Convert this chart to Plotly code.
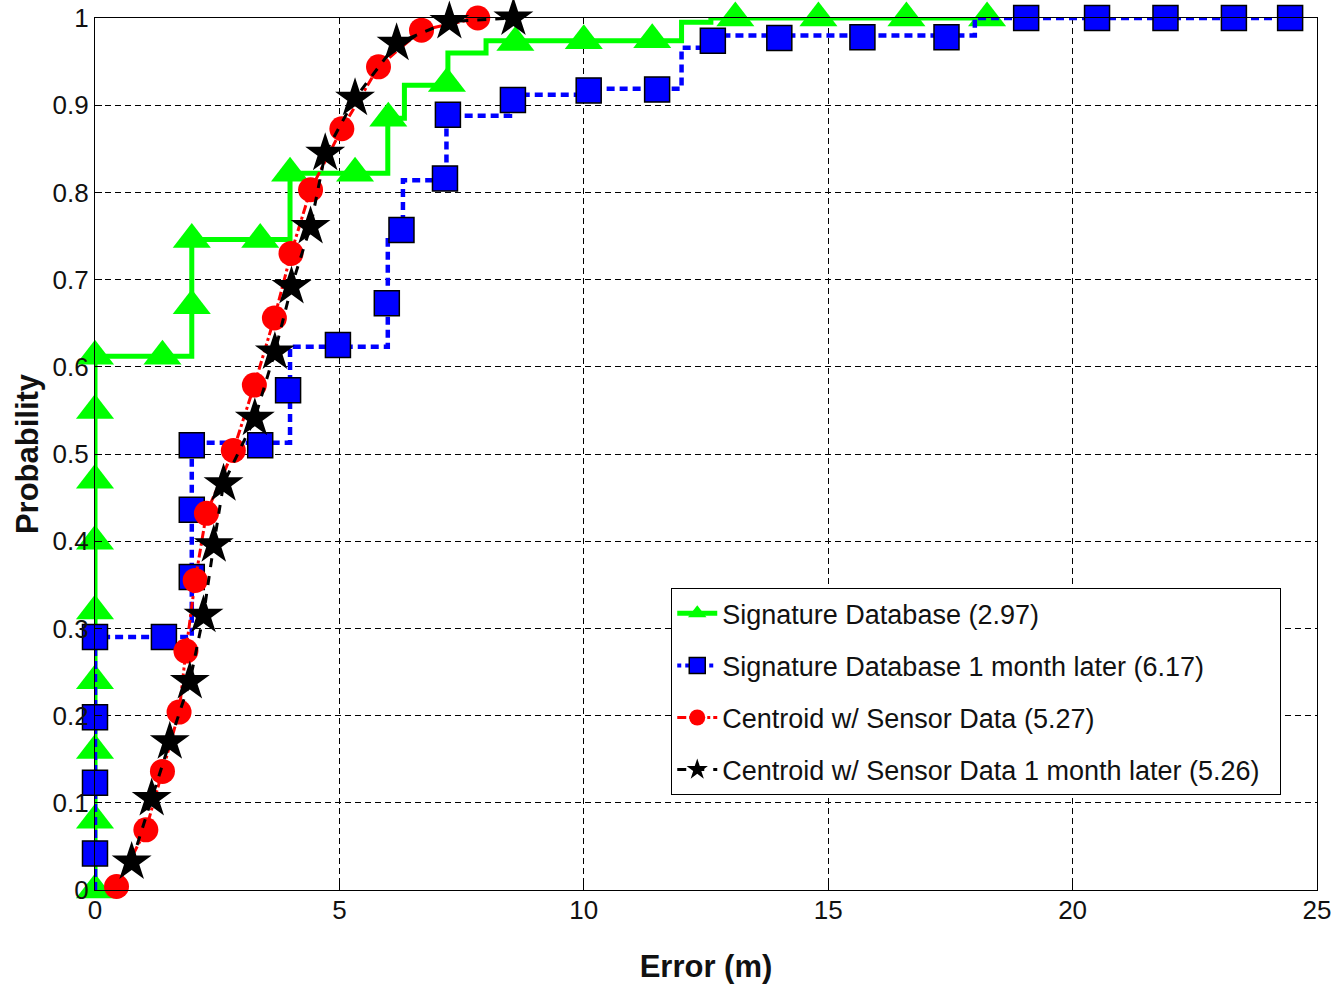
import plotly.graph_objects as go

# ---------------- data ----------------
series_names = [
    "Signature Database (2.97)",
    "Signature Database 1 month later (6.17)",
    "Centroid w/ Sensor Data (5.27)",
    "Centroid w/ Sensor Data 1 month later (5.26)",
]

# Signature Database: stair line vertices and marker positions
sig_step_x = [0, 0, 1.98, 3.99, 5.99, 6.33, 7.22, 8.0, 12.0, 12.6, 18.25]
sig_step_y = [0, 0.612, 0.746, 0.822, 0.885, 0.923, 0.96, 0.974, 0.995, 1.0, 1.0]
sig_mark_x = [0, 0, 0, 0, 0, 0, 0, 0, 0, 1.38, 1.98, 1.98, 3.38, 3.99, 5.32,
              6.0, 7.2, 8.6, 10.0, 11.4, 13.1, 14.8, 16.6, 18.25]
sig_mark_y = [0.0, 0.08, 0.16, 0.24, 0.32, 0.40, 0.47, 0.55, 0.612, 0.612, 0.67,
              0.746, 0.746, 0.822, 0.822, 0.885, 0.925, 0.972, 0.974, 0.975,
              1.0, 1.0, 1.0, 1.0]

# Signature Database 1 month later
sig1m_step_x = [0, 0, 1.98, 3.99, 5.99, 6.3, 7.19, 8.49, 10.05, 12.0, 12.45, 18.0, 24.45]
sig1m_step_y = [0, 0.29, 0.513, 0.623, 0.745, 0.814, 0.888, 0.912, 0.919, 0.966, 0.98, 1.0, 1.0]
sig1m_mark_x = [0, 0, 0, 0, 1.41, 1.98, 1.98, 1.98, 3.38, 3.95, 4.97, 5.97, 6.27,
                7.16, 7.22, 8.55, 10.1, 11.5, 12.64, 14.0, 15.7, 17.42, 19.05,
                20.5, 21.9, 23.3, 24.45]
sig1m_mark_y = [0.042, 0.123, 0.198, 0.29, 0.29, 0.359, 0.436, 0.51, 0.51, 0.573,
                0.625, 0.673, 0.757, 0.816, 0.889, 0.906, 0.917, 0.918, 0.974,
                0.977, 0.978, 0.978, 1.0, 1.0, 1.0, 1.0, 1.0]

# Centroid w/ Sensor Data
cen_x = [0.44, 1.04, 1.38, 1.72, 1.86, 2.05, 2.28, 2.83, 3.26, 3.67, 4.01, 4.41,
         5.05, 5.80, 6.68, 7.83]
cen_y = [0.004, 0.069, 0.136, 0.204, 0.274, 0.355, 0.432, 0.504, 0.579, 0.656,
         0.730, 0.803, 0.873, 0.944, 0.986, 1.0]

# Centroid w/ Sensor Data 1 month later
cen1m_x = [0.75, 1.16, 1.53, 1.94, 2.22, 2.43, 2.63, 3.27, 3.68, 4.02, 4.41, 4.71,
           5.32, 6.17, 7.25, 8.56]
cen1m_y = [0.032, 0.105, 0.170, 0.239, 0.315, 0.396, 0.466, 0.541, 0.617, 0.692,
           0.761, 0.845, 0.908, 0.971, 0.996, 1.0]

x_ticks = [0, 5, 10, 15, 20, 25]
y_ticks = [0, 0.1, 0.2, 0.3, 0.4, 0.5, 0.6, 0.7, 0.8, 0.9, 1.0]
y_tick_text = ["0", "0.1", "0.2", "0.3", "0.4", "0.5", "0.6", "0.7", "0.8", "0.9", "1"]

# ---------------- figure ----------------
FONT = "Liberation Sans, Arial, Helvetica, sans-serif"
GREEN = "#00ff00"
BLUE = "#0000ff"
RED = "#ff0000"
BLACK = "#000000"
TXT = "#111111"

fig = go.Figure()

# Signature Database
fig.add_trace(go.Scatter(x=sig_step_x, y=sig_step_y, mode="lines", line_shape="hv",
                         line=dict(color=GREEN, width=5), showlegend=False,
                         hoverinfo="skip", cliponaxis=False))
fig.add_trace(go.Scatter(x=sig_mark_x, y=sig_mark_y, mode="markers",
                         marker=dict(symbol="triangle-up", size=33, color=GREEN,
                                     line=dict(width=0)),
                         showlegend=False, cliponaxis=False))

# Signature Database 1 month later
fig.add_trace(go.Scatter(x=sig1m_step_x, y=sig1m_step_y, mode="lines", line_shape="hv",
                         line=dict(color=BLUE, width=4.5, dash="8px,5px"), showlegend=False,
                         hoverinfo="skip", cliponaxis=False))
fig.add_trace(go.Scatter(x=sig1m_mark_x, y=sig1m_mark_y, mode="markers",
                         marker=dict(symbol="square", size=25, color=BLUE,
                                     line=dict(width=1.5, color=BLACK)),
                         showlegend=False, cliponaxis=False))

# Centroid w/ Sensor Data
fig.add_trace(go.Scatter(x=cen_x, y=cen_y, mode="lines+markers",
                         line=dict(color=RED, width=3, dash="dashdot"),
                         marker=dict(symbol="circle", size=25, color=RED,
                                     line=dict(width=0)),
                         showlegend=False, cliponaxis=False))

# Centroid w/ Sensor Data 1 month later
fig.add_trace(go.Scatter(x=cen1m_x, y=cen1m_y, mode="lines+markers",
                         line=dict(color=BLACK, width=3, dash="dash"),
                         marker=dict(symbol="star", size=30, color=BLACK,
                                     line=dict(width=0)),
                         showlegend=False, cliponaxis=False))

# legend entries (line + marker samples)
legend_styles = [
    dict(line=dict(color=GREEN, width=5), marker=dict(symbol="triangle-up", size=16, color=GREEN)),
    dict(line=dict(color=BLUE, width=4, dash="dot"),
         marker=dict(symbol="square", size=16, color=BLUE, line=dict(width=1.5, color=BLACK))),
    dict(line=dict(color=RED, width=3, dash="dashdot"), marker=dict(symbol="circle", size=16, color=RED)),
    dict(line=dict(color=BLACK, width=3, dash="dash"), marker=dict(symbol="star", size=16, color=BLACK)),
]
for i, (name, st) in enumerate(zip(series_names, legend_styles)):
    fig.add_trace(go.Scatter(x=[None], y=[None], mode="lines+markers",
                             name=name + "\u00a0\u00a0",
                             legendgroup=f"g{i}", **st))

fig.update_layout(
    width=1332, height=984,
    paper_bgcolor="white", plot_bgcolor="white",
    margin=dict(l=95, r=15, t=18, b=94, autoexpand=False),
    font=dict(family=FONT, size=27, color="black"),
    showlegend=True,
    legend=dict(
        x=0.4714, y=0.3463, xanchor="left", yanchor="top",
        bgcolor="white", bordercolor="black", borderwidth=1.2,
        font=dict(family=FONT, size=27, color=TXT),
        tracegroupgap=14, traceorder="grouped",
        itemwidth=40,
    ),
)

fig.update_xaxes(
    range=[0, 25], tickvals=x_ticks, ticktext=[str(v) for v in x_ticks],
    showgrid=True, gridcolor="black", gridwidth=1, griddash="6px,4px",
    zeroline=False, showline=True, linecolor="black", linewidth=1.2, mirror=True,
    ticks="inside", ticklen=7, tickcolor="black", automargin=False,
    ticklabelstandoff=-3, ticklabeloverflow="allow",
    tickfont=dict(family=FONT, size=26, color=TXT),
    title=dict(text="<b>Error (m)</b>", font=dict(family=FONT, size=31, color=TXT),
               standoff=32),
)
fig.update_yaxes(
    range=[0, 1], tickvals=y_ticks, ticktext=y_tick_text,
    showgrid=True, gridcolor="black", gridwidth=1, griddash="6px,4px",
    zeroline=False, showline=True,
    linecolor="black", linewidth=1.2, mirror=True,
    ticks="inside", ticklen=7, tickcolor="black", automargin=False,
    ticklabeloverflow="allow",
    tickfont=dict(family=FONT, size=26, color=TXT),
    title=dict(text="<b>Probability</b>", font=dict(family=FONT, size=31, color=TXT),
               standoff=4),
)

# remove the default 8px page margin so the 1332x984 figure fills the window exactly
fig.write_html("out.html",
               config={"displayModeBar": False},
               post_script="document.body.style.margin='0';document.body.style.overflow='hidden';")
